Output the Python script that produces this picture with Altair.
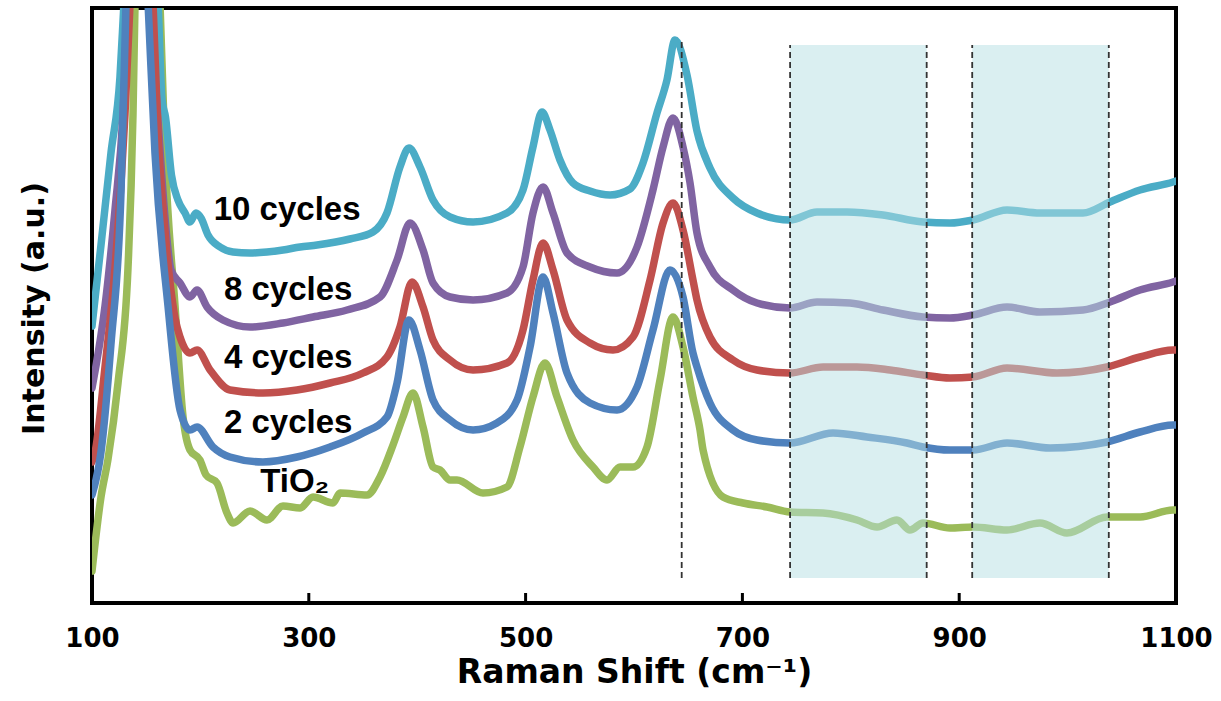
import altair as alt
import pandas as pd

# ---- data (Raman shift in cm^-1, intensity in arbitrary units) ----
x10 = [100, 108.3, 117.5, 125.8, 129.5, 141, 160.9, 164.6, 167.8, 173.3, 179.3, 185.8, 190.4, 195.9, 200.6, 207.0, 218.1, 230.1, 245.8, 261.4, 276.2, 291.9, 307.6, 338.0, 359.2, 372.1, 384.1, 392.4, 402.6, 414.6, 430.3, 451.5, 482.8, 497.6, 506.8, 515.1, 522.5, 531.7, 543.7, 559.4, 577.9, 596.3, 608.3, 621.2, 630.4, 637.8, 648.9, 658.1, 670.1, 691.3, 713.5, 743.9, 768.8, 796.5, 829.7, 866.6, 891.5, 912.7, 944.1, 974.5, 1014.2, 1039.1, 1066.8, 1097.2, 1100]
y10 = [277, 358, 450, 526, 600, 800, 600, 503, 486, 428, 403, 390, 381, 390, 385, 368, 356, 351, 350, 351, 353, 356, 358, 364, 371, 390, 436, 455, 436, 403, 386, 381, 390, 413, 456, 491, 473, 443, 420, 412, 408, 414, 440, 490, 523, 563, 528, 472, 435, 405, 390, 383, 391, 391, 388, 381, 380, 383, 393, 390, 390, 401, 413, 421, 422]

x8 = [100, 112.0, 121.2, 128.6, 133.2, 142, 153.5, 160.9, 167.3, 172.9, 181.2, 190.4, 196.9, 206.1, 220.8, 245.8, 276.2, 303.9, 335.2, 365.7, 381.4, 393.4, 405.4, 414.6, 430.3, 451.5, 482.8, 497.6, 506.8, 516.1, 525.3, 538.2, 559.4, 584.3, 602.8, 617.5, 626.8, 636.0, 645.2, 651.7, 658.1, 670.1, 691.3, 713.5, 743.9, 768.8, 799.3, 829.7, 866.6, 891.5, 912.7, 944.1, 974.5, 1014.2, 1039.1, 1066.8, 1097.2, 1100]
y8 = [215, 297, 393, 488, 600, 800, 600, 483, 386, 333, 320, 306, 313, 296, 283, 276, 280, 286, 293, 306, 343, 380, 353, 320, 306, 303, 310, 336, 390, 416, 390, 350, 336, 330, 356, 413, 456, 485, 456, 420, 370, 336, 313, 300, 295, 301, 300, 293, 286, 285, 288, 296, 291, 293, 301, 313, 321, 322]

x4 = [100, 102.8, 112.0, 121.2, 130.4, 135.1, 143, 156.3, 160.9, 167.3, 176.6, 181.2, 190.4, 196.9, 208.9, 227.3, 257.7, 289.1, 319.6, 350.0, 372.1, 384.1, 395.2, 405.4, 414.6, 430.3, 451.5, 482.8, 497.6, 506.8, 516.1, 525.3, 538.2, 559.4, 580.6, 599.1, 614.8, 626.8, 636.0, 645.2, 654.4, 658.1, 670.1, 691.3, 713.5, 743.9, 774.4, 805.7, 836.2, 866.6, 891.5, 912.7, 944.1, 990.2, 1036.3, 1066.8, 1097.2, 1100]
y4 = [141, 151, 236, 335, 488, 600, 800, 600, 470, 373, 285, 266, 250, 253, 233, 213, 210, 213, 220, 230, 246, 276, 321, 296, 263, 243, 233, 240, 273, 323, 360, 333, 283, 260, 253, 266, 323, 380, 400, 373, 323, 303, 266, 243, 233, 230, 236, 236, 233, 228, 225, 226, 235, 230, 236, 246, 253, 253]

x2 = [100, 108.3, 117.5, 126.8, 131.4, 142, 151.7, 158.1, 170.1, 181.2, 190.4, 196.9, 211.6, 227.3, 257.7, 289.1, 319.6, 350.0, 372.1, 381.4, 392.4, 402.6, 414.6, 430.3, 451.5, 473.6, 492.1, 504.1, 516.1, 525.3, 538.2, 559.4, 584.3, 602.8, 617.5, 633.2, 645.2, 654.4, 658.1, 670.1, 691.3, 713.5, 743.9, 783.6, 814.9, 851.8, 866.6, 891.5, 912.7, 944.1, 983.8, 1036.3, 1066.8, 1097.2, 1100]
y2 = [108, 151, 259, 412, 600, 800, 600, 450, 297, 193, 173, 176, 156, 146, 141, 146, 156, 170, 186, 220, 283, 253, 203, 183, 173, 180, 203, 256, 326, 290, 230, 200, 193, 216, 273, 333, 306, 250, 236, 200, 173, 163, 160, 170, 166, 160, 156, 153, 153, 160, 155, 161, 171, 178, 178]

xT = [100, 108.3, 114.8, 124.0, 133.2, 137.8, 139.7, 146, 162.7, 167.3, 176.6, 184.0, 190.4, 199.6, 205.2, 215.3, 224.5, 230.1, 245.8, 261.4, 276.2, 291.9, 303.9, 322.3, 328.8, 353.7, 365.7, 377.7, 386.9, 396.1, 405.4, 414.6, 421.0, 430.3, 436.7, 460.7, 482.8, 494.8, 506.8, 517.9, 529.0, 543.7, 562.2, 575.1, 587.1, 599.1, 612.0, 624.0, 636.0, 645.2, 654.4, 660.9, 663.7, 682.1, 700.6, 722.7, 743.9, 774.4, 805.7, 824.2, 842.6, 854.6, 866.6, 891.5, 912.7, 944.1, 974.5, 999.4, 1036.3, 1066.8, 1097.2, 1100]
yT = [32, 106, 144, 220, 335, 488, 600, 800, 600, 450, 297, 186, 153, 143, 128, 120, 90, 80, 92, 83, 97, 95, 106, 100, 110, 108, 126, 158, 186, 210, 176, 136, 133, 123, 123, 110, 116, 156, 206, 240, 206, 163, 136, 123, 136, 136, 156, 223, 286, 256, 206, 173, 153, 106, 100, 96, 91, 90, 83, 76, 83, 73, 80, 75, 76, 73, 80, 70, 86, 86, 93, 93]

series_names = ["TiO2", "10 cycles", "8 cycles", "4 cycles", "2 cycles"]
series_colors = ["#9BBB59", "#4BACC6", "#8064A2", "#C0504D", "#4F81BD"]
series_x = [xT, x10, x8, x4, x2]
series_y = [yT, y10, y8, y4, y2]

label_text = ["10 cycles", "8 cycles", "4 cycles", "2 cycles", "TiO\u2082"]
label_x = [280, 281, 281, 281, 287]
label_y = [393, 313, 245, 180, 121]

shade_start = [744, 912]
shade_end = [870, 1038]
shade_low = 25
shade_high = 558
edge_x = [744, 870, 912, 1038]
peak_line_x = [644]
peak_line_top = 563

tick_values = [100, 300, 500, 700, 900, 1100]
inner_ticks = [300, 500, 700, 900]

# ---- scales and axes ----
xs = alt.Scale(domain=[100, 1100], nice=False, zero=False)
ys = alt.Scale(domain=[0, 595], nice=False, zero=False)

xaxis = alt.Axis(
    title="Raman Shift (cm\u207b\u00b9)", values=tick_values, format="d",
    ticks=False, domain=False, grid=False, labelFlush=False, labelOverlap=False,
    labelFont="DejaVu Sans", labelFontWeight="bold", labelFontSize=26,
    labelColor="black", labelPadding=22,
    titleFont="DejaVu Sans", titleFontWeight="bold", titleFontSize=33,
    titleColor="black", titleY=79, titleBaseline="alphabetic",
)
yaxis = alt.Axis(
    title="Intensity (a.u.)", labels=False, ticks=False, domain=False, grid=False,
    titleFont="DejaVu Sans", titleFontWeight="bold", titleFontSize=30,
    titleColor="black", titleX=-49, titleY=300, titleAngle=270,
    titleBaseline="alphabetic", titleAlign="center",
)

layers = []
for name, color, xv, yv in zip(series_names, series_colors, series_x, series_y):
    df = pd.DataFrame({"x": xv, "y": yv})
    layers.append(
        alt.Chart(df).mark_line(
            color=color, strokeWidth=7.5, clip=True, interpolate="monotone",
            strokeCap="round", strokeJoin="round",
        ).encode(
            x=alt.X("x:Q", scale=xs, axis=xaxis),
            y=alt.Y("y:Q", scale=ys, axis=yaxis),
        )
    )

shade_df = pd.DataFrame({"x": shade_start, "x2": shade_end,
                         "y": [shade_low] * len(shade_start),
                         "y2": [shade_high] * len(shade_start)})
shade = alt.Chart(shade_df).mark_rect(color="#b6e0e4", opacity=0.5).encode(
    x=alt.X("x:Q", scale=xs, axis=xaxis), x2="x2:Q",
    y=alt.Y("y:Q", scale=ys, axis=yaxis), y2="y2:Q",
)

edges_df = pd.DataFrame({"x": edge_x, "y": [shade_low] * len(edge_x),
                         "y2": [shade_high] * len(edge_x)})
edges = alt.Chart(edges_df).mark_rule(color="#333333", strokeWidth=1.8,
                                      strokeDash=[6, 4]).encode(
    x=alt.X("x:Q", scale=xs, axis=xaxis),
    y=alt.Y("y:Q", scale=ys, axis=yaxis), y2="y2:Q",
)

peak_df = pd.DataFrame({"x": peak_line_x, "y": [shade_low], "y2": [peak_line_top]})
peak = alt.Chart(peak_df).mark_rule(color="#333333", strokeWidth=1.8,
                                    strokeDash=[6, 4]).encode(
    x=alt.X("x:Q", scale=xs, axis=xaxis),
    y=alt.Y("y:Q", scale=ys, axis=yaxis), y2="y2:Q",
)

ticks_df = pd.DataFrame({"x": inner_ticks, "y": [0] * len(inner_ticks),
                         "y2": [10] * len(inner_ticks)})
ticks = alt.Chart(ticks_df).mark_rule(color="black", strokeWidth=3).encode(
    x=alt.X("x:Q", scale=xs, axis=xaxis),
    y=alt.Y("y:Q", scale=ys, axis=yaxis), y2="y2:Q",
)

labels_df = pd.DataFrame({"x": label_x, "y": label_y, "t": label_text})
labels = alt.Chart(labels_df).mark_text(
    font="Liberation Sans", fontWeight="bold", fontSize=33, color="black",
    align="center", baseline="middle",
).encode(
    x=alt.X("x:Q", scale=xs, axis=xaxis),
    y=alt.Y("y:Q", scale=ys, axis=yaxis),
    text="t:N",
)

chart = alt.layer(*layers, shade, edges, peak, ticks, labels).properties(
    width=1084, height=595,
    padding={"left": 92, "top": 8, "right": 45, "bottom": 98},
    autosize=alt.AutoSizeParams(type="none"),
    background="white",
).configure_view(stroke="black", strokeWidth=4)

chart.save("out.html", embed_options={"renderer": "svg", "actions": False})
